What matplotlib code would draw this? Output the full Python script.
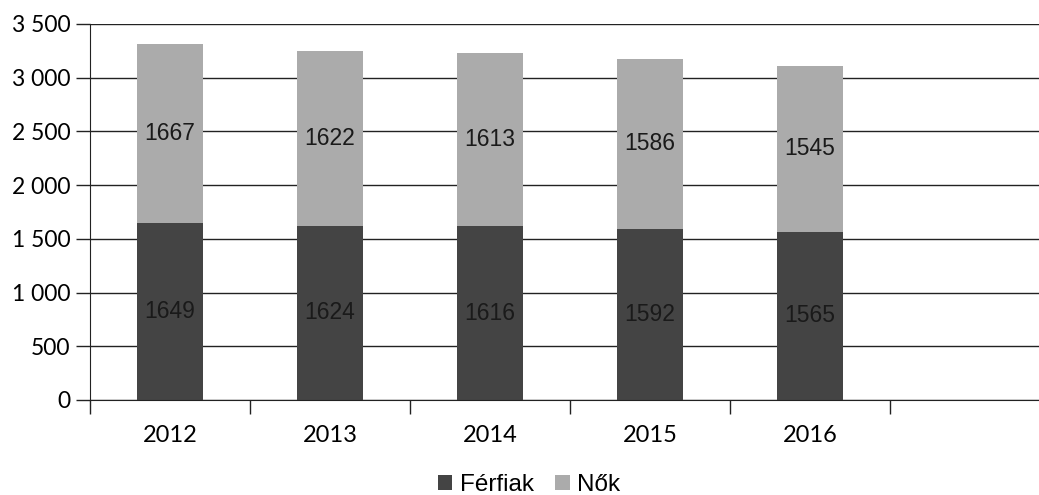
import matplotlib.pyplot as plt
from matplotlib.ticker import MultipleLocator, FixedLocator, FuncFormatter

years = ['2012', '2013', '2014', '2015', '2016']
ferfiak = [1649, 1624, 1616, 1592, 1565]
nok = [1667, 1622, 1613, 1586, 1545]

dark = '#444444'
light = '#ababab'

fig = plt.figure(figsize=(10.39, 4.95), dpi=100)
ax = fig.add_axes([90 / 1039, 1 - 400 / 495, 1 - 90 / 1039, (400 - 24) / 495])

x = list(range(len(years)))
b1 = ax.bar(x, ferfiak, width=0.41, color=dark, zorder=2, label='Férfiak')
b2 = ax.bar(x, nok, width=0.41, bottom=ferfiak, color=light, zorder=2, label='Nők')

for bars in (b1, b2):
    for r in bars:
        ax.text(r.get_x() + r.get_width() / 2, r.get_y() + r.get_height() / 2,
                '%d' % r.get_height(), ha='center', va='center',
                fontsize=16.5, family='Liberation Sans', color='#1a1a1a', zorder=3)

ax.set_ylim(0, 3500)
ax.set_xlim(-0.5, (1039 - 90) / 160 - 0.5)
ax.yaxis.set_major_locator(MultipleLocator(500))
ax.yaxis.set_major_formatter(FuncFormatter(lambda v, p: '{:,}'.format(int(v)).replace(',', ' ')))
ax.grid(axis='y', color='#222222', linewidth=1, zorder=0)

ax.set_xticks(x)
ax.set_xticklabels(years)
ax.xaxis.set_minor_locator(FixedLocator([i - 0.5 for i in range(7)]))
ax.tick_params(axis='x', which='major', length=0, pad=18, labelsize=17)
ax.tick_params(axis='x', which='minor', length=10, width=1, color='#222222')
ax.tick_params(axis='y', length=10, width=1, color='#222222', labelsize=16.5, pad=4)
for lab in ax.get_xticklabels() + ax.get_yticklabels():
    lab.set_family('Lato')

for s in ('top', 'right'):
    ax.spines[s].set_visible(False)
ax.spines['left'].set_color('#222222')
ax.spines['bottom'].set_color('#222222')

fig.legend(handles=[b1, b2], loc='center', bbox_to_anchor=(529 / 1039, 1 - 485 / 495),
           ncol=2, frameon=False, handlelength=0.6, handleheight=0.6, handletextpad=0.3,
           columnspacing=0.9, borderpad=0, prop={'family': 'Liberation Sans', 'size': 17.5})

fig.savefig('out.png', dpi=100)
